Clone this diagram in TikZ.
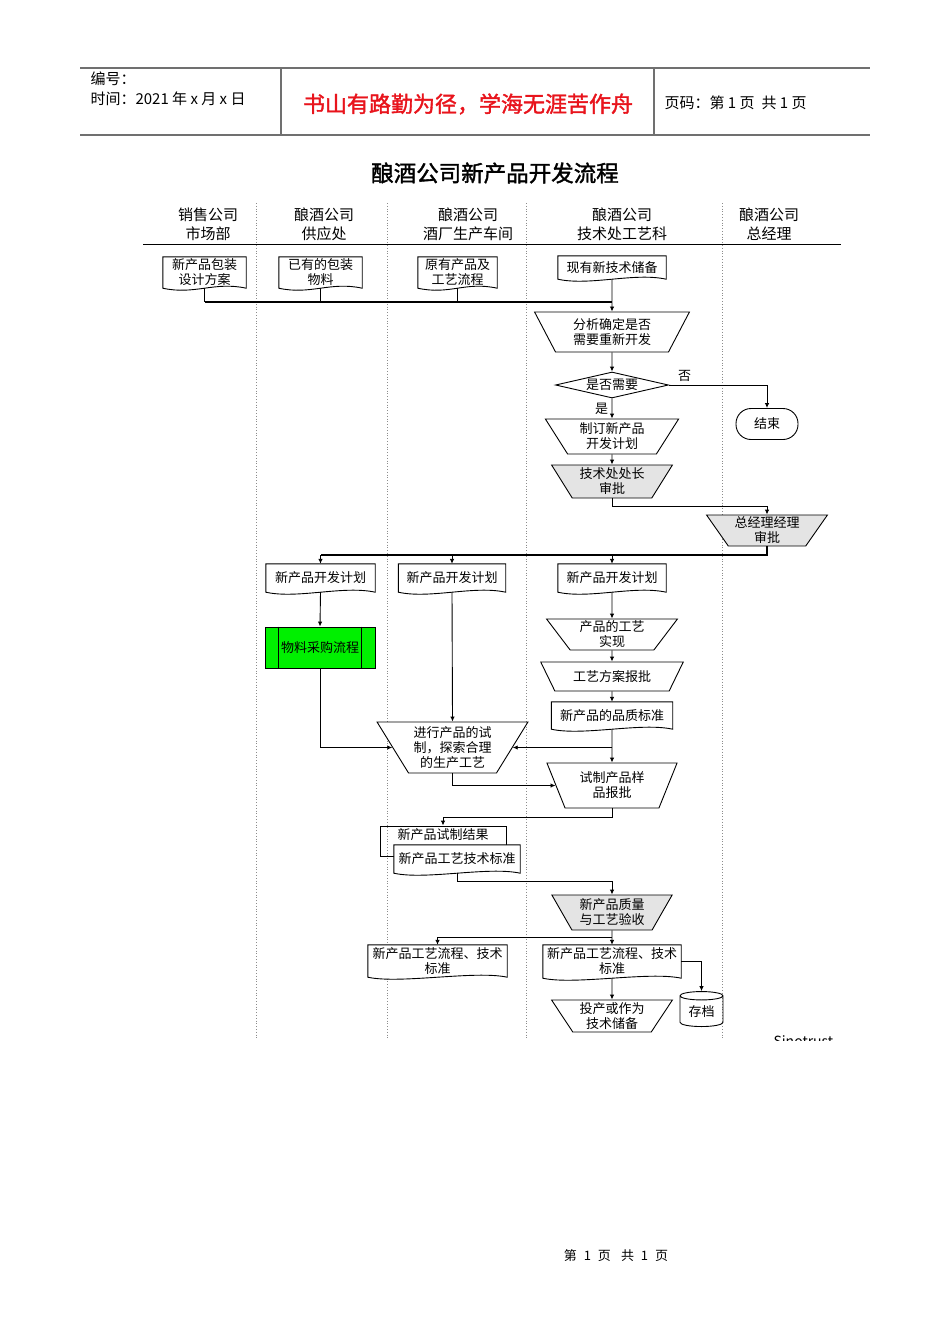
\documentclass[tikz,border=0pt]{standalone}
\usepackage{fontspec}
\setmainfont{Noto Sans CJK SC}[BoldFont={Noto Sans CJK SC}, BoldFeatures={FakeBold=1.6}]
\usetikzlibrary{positioning, calc, arrows.meta, shapes.geometric}
\definecolor{Ink}{HTML}{000000}
\definecolor{Rule}{HTML}{707070}
\definecolor{LaneGray}{HTML}{8C8C8C}
\definecolor{Shade}{HTML}{E4E4E4}
\definecolor{Lime}{HTML}{00F000}
\definecolor{Motto}{HTML}{E8141C}
\tikzset{
    flowfont/.style={font=\fontsize{13}{15}\selectfont},
    lanefont/.style={font=\fontsize{15}{19}\selectfont},
    docbox/.style={rectangle, flowfont, align=center, inner sep=1pt,
        append after command={\pgfextra{\let\docnode\tikzlastnode
            \filldraw[draw=Ink, fill=white, line width=0.9pt] (\docnode.south west) -- (\docnode.north west)
                -- (\docnode.north east) -- (\docnode.south east)
                .. controls +(-32pt,7pt) and +(32pt,-7pt) .. (\docnode.south west) -- cycle;}}},
    trapbox/.style={trapezium, shape border rotate=180, trapezium stretches=true, draw=Ink,
        line width=0.9pt, flowfont, align=center, inner sep=1pt, fill=white},
    grayblock/.style={trapbox, fill=Shade},
    decision/.style={diamond, draw=Ink, line width=0.9pt, aspect=4.3, flowfont, inner sep=0pt,
        minimum width=113pt, minimum height=26pt},
    flow/.style={-{Latex[length=5pt, width=4.5pt]}, line width=0.9pt, Ink},
    thinline/.style={line width=0.9pt, Ink},
    busline/.style={line width=1.6pt, Ink},
    laneline/.style={LaneGray, line width=0.8pt, dotted},
}

\begin{document}
\begin{tikzpicture}[x=1pt, y=-1pt]
    \useasboundingbox (0,0) rectangle (950,1344);

    % --- Header ---
    \draw[Rule, line width=1.2pt] (80,68) -- (870,68);
    \draw[Rule, line width=1.8pt] (80,135) -- (870,135);
    \draw[Rule, line width=1.2pt] (281,68) -- (281,135);
    \draw[Rule, line width=1.2pt] (654,68) -- (654,135);
    \node[anchor=west, font=\fontsize{15}{18}\selectfont] (serial) at (87,79) {编号：};
    \node[anchor=west, font=\fontsize{15}{18}\selectfont] (date) at (87,99) {时间：2021 年 x 月 x 日};
    \node[font=\bfseries\fontsize{22}{26}\selectfont, text=Motto] (motto) at (468,104) {书山有路勤为径，学海无涯苦作舟};
    \node[anchor=west, font=\fontsize{15}{18}\selectfont] (pageno) at (661,103) {页码：第 1 页\hspace{7pt}共 1 页};

    % Titolo
    \node[font=\bfseries\fontsize{22.5}{26}\selectfont] (title) at (495,173) {酿酒公司新产品开发流程};

    % --- Lanes ---
    \foreach \x in {256,387,526,722}
        \draw[laneline] (\x,203) -- (\x,1040);
    \draw[Ink, line width=1pt] (143,244) -- (841,244);
    \node[lanefont, align=center] (laneA) at (208,224.5) {销售公司\\市场部};
    \node[lanefont, align=center] (laneB) at (324,224.5) {酿酒公司\\供应处};
    \node[lanefont, align=center] (laneC) at (468,224.5) {酿酒公司\\酒厂生产车间};
    \node[lanefont, align=center] (laneD) at (622,224.5) {酿酒公司\\技术处工艺科};
    \node[lanefont, align=center] (laneE) at (769,224.5) {酿酒公司\\总经理};

    % --- Inputs ---
    \node[docbox, minimum width=83pt, minimum height=31pt] (pkgdesign) at (204.5,272.5) {新产品包装\\设计方案};
    \node[docbox, minimum width=83pt, minimum height=31pt] (pkgstock) at (320.5,272.5) {已有的包装\\物料};
    \node[docbox, minimum width=79pt, minimum height=31pt] (oldproc) at (457.5,272.5) {原有产品及\\工艺流程};
    \node[docbox, minimum width=108pt, minimum height=23pt] (newtech) at (612,267.5) {现有新技术储备};
    \coordinate (inrow) at (0,302);
    \foreach \d in {pkgdesign,pkgstock,oldproc}
        \draw[thinline] (\d.south) -- (\d.south |- inrow);
    \draw[busline] (pkgdesign.south |- inrow) -- (newtech.south |- inrow);

    % --- Decision ---
    \node[trapbox, minimum width=155pt, minimum height=40pt, trapezium angle=63] (analyse) at (612,332) {分析确定是否\\需要重新开发};
    \node[decision] (need) at (612,385) {是否需要};
    \node[draw=Ink, line width=0.9pt, rounded corners=15pt, flowfont, minimum width=62pt, minimum height=31pt] (finish) at (767,424) {结束};
    \node[trapbox, minimum width=134pt, minimum height=35pt, trapezium angle=60] (plan) at (612,436.5) {制订新产品\\开发计划};
    \node[grayblock, minimum width=121pt, minimum height=33pt, trapezium angle=59] (chiefok) at (612,481.5) {技术处处长\\审批};
    \node[grayblock, minimum width=121pt, minimum height=31pt, trapezium angle=57] (gmok) at (767,530.5) {总经理经理\\审批};

    \draw[flow] (newtech.south) -- (analyse.north);
    \draw[flow] (analyse.south) -- (need.north);
    \draw[flow] (need.east) -| node[pos=0.08, above, flowfont] {否} (finish.north);
    \draw[flow] (need.south) -- node[pos=0.5, left, flowfont] {是} (plan.north);
    \draw[flow] (plan.south) -- (chiefok.north);
    \draw[flow] (chiefok.south) -- ++(0,8) -| (gmok.north);

    % --- Plans ---
    \node[docbox, minimum width=109pt, minimum height=28pt] (planA) at (320.5,578) {新产品开发计划};
    \node[docbox, minimum width=107pt, minimum height=28pt] (planB) at (452,578) {新产品开发计划};
    \node[docbox, minimum width=108pt, minimum height=28pt] (planC) at (612,578) {新产品开发计划};
    \coordinate (planrow) at (0,555);
    \draw[busline] (gmok.south) -- (gmok.south |- planrow) -- (planA.north |- planrow);
    \foreach \p in {planA,planB,planC}
        \draw[flow] (\p.north |- planrow) -- (\p.north);

    % Acquisti
    \node[rectangle, draw=Ink, line width=0.9pt, fill=Lime, flowfont, minimum width=110pt, minimum height=41pt] (purchase) at (320,647.5) {物料采购流程};
    \draw[Ink, line width=0.9pt] ([xshift=14pt]purchase.north west) -- ([xshift=14pt]purchase.south west);
    \draw[Ink, line width=0.9pt] ([xshift=-14pt]purchase.north east) -- ([xshift=-14pt]purchase.south east);

    % --- Trial ---
    \node[trapbox, minimum width=151pt, minimum height=51pt, trapezium angle=57] (trial) at (452.5,747.5) {进行产品的试\\制，探索合理\\的生产工艺};
    \node[trapbox, minimum width=131pt, minimum height=31pt, trapezium angle=57] (procreal) at (612,634.5) {产品的工艺\\实现};
    \node[trapbox, minimum width=143pt, minimum height=29pt, trapezium angle=55] (schemeok) at (612,676.5) {工艺方案报批};
    \node[docbox, minimum width=121pt, minimum height=27pt] (quality) at (612,715.5) {新产品的品质标准};
    \node[trapbox, minimum width=131pt, minimum height=45pt, trapezium angle=66] (sample) at (612,785.5) {试制产品样\\品报批};

    \draw[flow] (planA.south) -- (purchase.north);
    \draw[flow] (purchase.south) |- (trial.west);
    \draw[flow] (planB.south) -- (trial.north);
    \draw[flow] (planC.south) -- (procreal.north);
    \draw[flow] (procreal.south) -- (schemeok.north);
    \draw[flow] (schemeok.south) -- (quality.north);
    \draw[flow] (quality.south) -- (sample.north);
    \draw[flow] (quality.south |- trial.east) -- (trial.east);
    \draw[flow] (trial.south) |- (sample.west);

    % --- Results ---
    \node[rectangle, draw=Ink, line width=0.9pt, flowfont, minimum width=126pt, text height=11pt, text depth=15pt, inner ysep=2pt] (trialres) at (443,841) {新产品试制结果};
    \node[docbox, minimum width=126pt, minimum height=28pt] (techstd) at (457,859) {新产品工艺技术标准};
    \node[grayblock, minimum width=121pt, minimum height=35pt, trapezium angle=60] (accept) at (612,912.5) {新产品质量\\与工艺验收};
    \draw[flow] (sample.south) -- ++(0,9) -| (trialres.north);
    \draw[flow] (techstd.south) -- ++(0,8) -| (accept.north);

    % --- Output ---
    \node[docbox, minimum width=139pt, minimum height=32pt] (stdL) at (437.5,961) {新产品工艺流程、技术\\标准};
    \node[docbox, minimum width=138pt, minimum height=33pt] (stdR) at (612,961.5) {新产品工艺流程、技术\\标准};
    \node[trapbox, minimum width=121pt, minimum height=32pt, trapezium angle=58] (launch) at (612,1016) {投产或作为\\技术储备};
    \node[cylinder, shape border rotate=90, aspect=0.3, draw=Ink, line width=0.9pt, flowfont, minimum width=43pt, minimum height=35pt, inner sep=1pt] (archive) at (701.5,1012) {存档};
    \coordinate (splitrow) at (0,937);
    \draw[flow] (accept.south) -- (stdR.north);
    \draw[flow] (accept.south |- splitrow) -| (stdL.north);
    \draw[flow] (stdR.east) -| (archive.north);
    \draw[flow] (stdR.south) -- (launch.north);

    % Logo tagliato
    \begin{scope}
        \clip (760,1030) rectangle (840,1040.5);
        \node[font=\itshape\fontsize{14}{16}\selectfont, anchor=north west] (brand) at (770,1032) {Sinotrust};
    \end{scope}

    % Piede
    \node[font=\fontsize{13}{16}\selectfont] (footer) at (616,1256) {第\hspace{7pt}1\hspace{7pt}页\hspace{10pt}共\hspace{7pt}1\hspace{7pt}页};
\end{tikzpicture}
\end{document}
